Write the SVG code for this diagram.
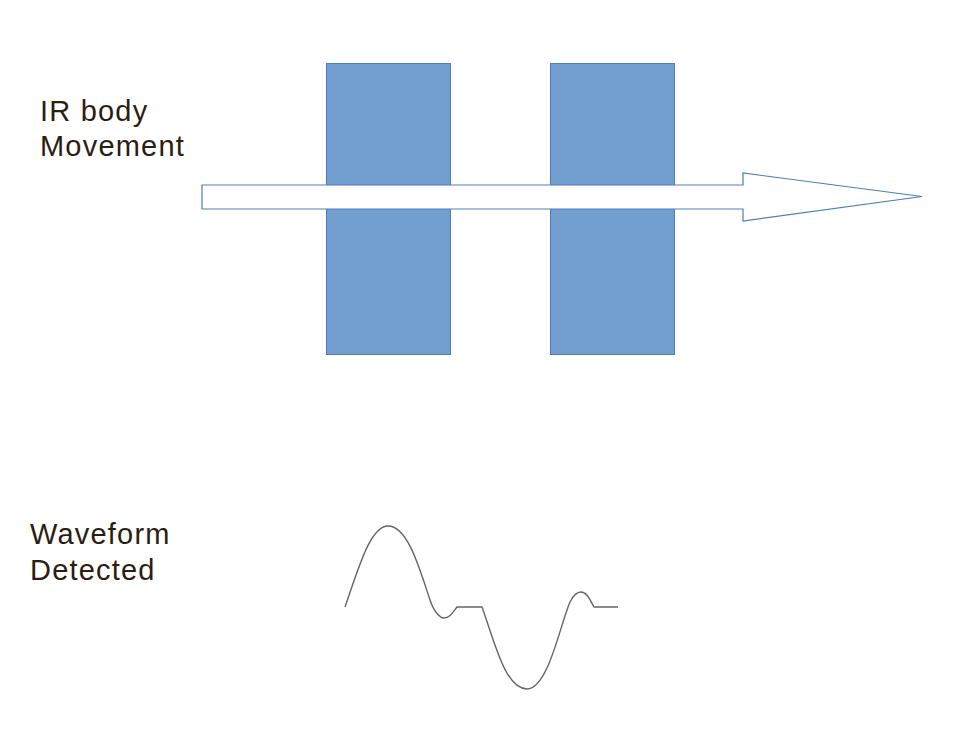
<svg xmlns="http://www.w3.org/2000/svg" width="979" height="742" viewBox="0 0 979 742">
<style>
.block{fill:#729fcf;stroke:#4a7ebb;stroke-width:1}
.arrow{fill:#ffffff;stroke:#4a7ebb;stroke-width:1.2}
.label{font-family:"Liberation Sans",Arial,sans-serif;font-size:29px;letter-spacing:1.2px;fill:#2b1d12}
.wave{fill:none;stroke:#666666;stroke-width:1.4}
</style>
<rect width="979" height="742" fill="#ffffff"/>
<g id="label-ir"><text class="label" x="40" y="121">IR body</text><text class="label" x="40" y="156">Movement</text></g>
<g id="block-1"><rect class="block" x="326.5" y="63.5" width="124" height="291"/></g>
<g id="block-2"><rect class="block" x="550.5" y="63.5" width="124" height="291"/></g>
<g id="connectors">
<polygon class="arrow" points="202,185 743,185 743,173 922,196.5 743,221 743,209 202,209"/>
</g>
<g id="label-wave"><text class="label" x="30" y="544">Waveform</text><text class="label" x="30" y="580">Detected</text></g>
<g id="waveform">
<path class="wave" d="M345,607 C358,570 370,526 388,526 C408,526 420,570 430,600 C434,612 440,618 444,618 C450,618 453,612 457,607 L482,607 C494,640 505,689 527,689 C548,689 560,625 570,602 C574,594 578,592 581,592 C587,592 590,600 594,607 L618,607"/>
</g>
</svg>
